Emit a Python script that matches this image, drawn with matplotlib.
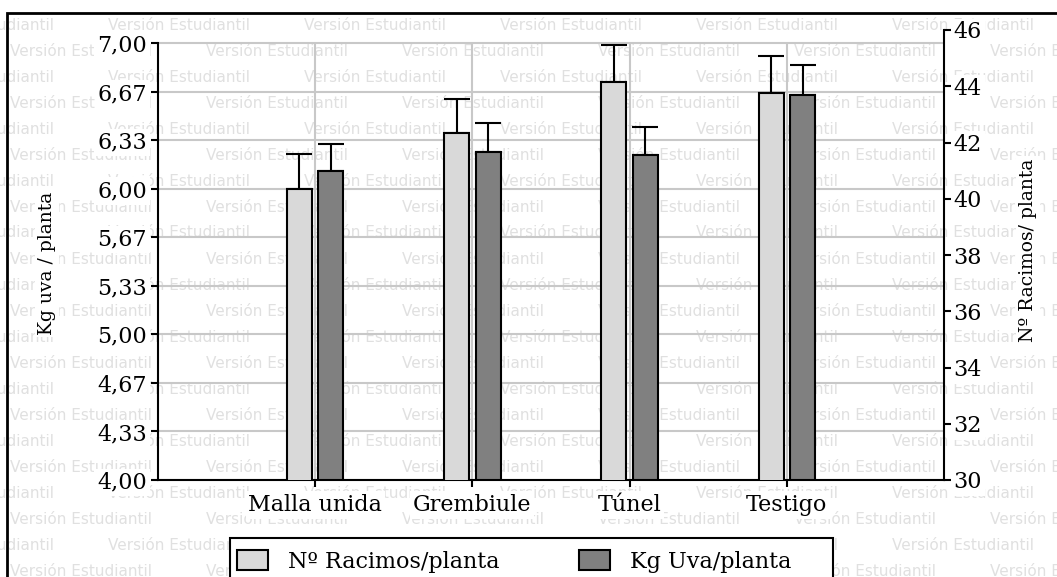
import numpy as np
import matplotlib
matplotlib.use("Agg")
import matplotlib.pyplot as plt
from matplotlib.patches import Patch, Rectangle

plt.rcParams['font.family'] = 'DejaVu Serif'

## --- datos
tratamientos = ["Malla unida", "Grembiule", "Túnel", "Testigo"]
racimos = [40.35, 42.33, 44.14, 43.75]       # Nº racimos / planta (eje derecho)
racimos_err = [1.24, 1.22, 1.33, 1.34]
kg_uva = [6.12, 6.25, 6.23, 6.64]            # Kg uva / planta (eje izquierdo)
kg_err = [0.19, 0.20, 0.19, 0.21]
ticks_kg = [4.00, 4.33, 4.67, 5.00, 5.33, 5.67, 6.00, 6.33, 6.67, 7.00]
ticks_racimos = [30, 32, 34, 36, 38, 40, 42, 44, 46]

W, H = 1057, 577
def fx(px):
    return px / W
def fy(py):
    return 1 - py / H

fig = plt.figure(figsize=(W / 100, H / 100), dpi=100)

# marca de agua de fondo
for k, y in enumerate(range(25, H + 13, 26)):
    x0 = 108 if k % 2 == 0 else 10
    for x in range(x0 - 196, W, 196):
        fig.text(fx(x), fy(y), "Versión Estudiantil", fontsize=11,
                 color="#e0e0e0", family="DejaVu Sans", ha="left",
                 va="center", zorder=-5)

ax = fig.add_axes([fx(158), fy(480), fx(944) - fx(158), (480 - 30) / H])
ax.patch.set_visible(False)
ax2 = ax.twinx()
ax2.patch.set_visible(False)

x = np.arange(1, len(tratamientos) + 1)
gris_rejilla = "#c8c8c8"

ax.set_xlim(0, 5)
ax.set_ylim(4, 4 + 3 * 450 / 437)
ax2.set_ylim(30, 46)

# rejilla
ax.yaxis.grid(True, color=gris_rejilla, lw=1.5)
ax.set_axisbelow(True)
ax.vlines(x, 4, 7, color=gris_rejilla, lw=1.5, zorder=0.5)

ekw = dict(ecolor="black", elinewidth=1.5, capthick=1.5, zorder=1.9)
ax.bar(x + 0.1, kg_uva, 0.16, color="#808080", edgecolor="black", lw=1.5,
       zorder=2, yerr=[np.zeros(len(kg_err)), kg_err], capsize=9.5,
       error_kw=ekw)
ax2.bar(x - 0.1, racimos, 0.16, color="#d9d9d9", edgecolor="black", lw=1.5,
        zorder=2, yerr=[np.zeros(len(racimos_err)), racimos_err], capsize=9.5,
        error_kw=ekw)

# ejes
ax.spines["top"].set_visible(False)
ax.spines["right"].set_visible(False)
ax.spines["left"].set_bounds(4, 7)
ax.spines["left"].set_linewidth(1.5)
ax.spines["bottom"].set_linewidth(1.5)
for s in ["left", "top", "bottom"]:
    ax2.spines[s].set_visible(False)
ax2.spines["right"].set_linewidth(1.5)

ax.set_yticks(np.linspace(4, 7, 10))
ax.set_yticklabels([("%.2f" % v).replace(".", ",") for v in ticks_kg])
ax.set_xticks(x)
ax.set_xticklabels(tratamientos)
ax2.set_yticks(ticks_racimos)
ax.tick_params(axis="y", direction="out", length=5, width=1.5, labelsize=16, pad=3)
ax.tick_params(axis="x", direction="out", length=5, width=1.5, labelsize=16, pad=5)
ax2.tick_params(axis="y", direction="out", length=5, width=1.5, labelsize=16, pad=2)
for lab in ax.get_yticklabels() + ax.get_xticklabels() + ax2.get_yticklabels():
    lab.set_bbox(dict(facecolor="white", edgecolor="none", pad=2))

# titulos de ejes
fig.text(fx(47), fy(263), "Kg uva / planta", rotation=90, fontsize=13.5,
         ha="center", va="center",
         bbox=dict(facecolor="white", edgecolor="none", pad=2))
fig.text(fx(1028), fy(250), "Nº Racimos/ planta", rotation=90, fontsize=13.5,
         ha="center", va="center",
         bbox=dict(facecolor="white", edgecolor="none", pad=2))

# leyenda: marco propio y entradas dentro
fig.add_artist(Rectangle((fx(230), -0.1), fx(833) - fx(230), fy(538) + 0.1,
                         facecolor="white", edgecolor="black", lw=1.5,
                         transform=fig.transFigure, zorder=4))
handles = [Patch(facecolor="#d9d9d9", edgecolor="black", lw=1.5, label="Nº Racimos/planta"),
           Patch(facecolor="#808080", edgecolor="black", lw=1.5, label="Kg Uva/planta")]
leg = fig.legend(handles=handles, loc="upper left", bbox_to_anchor=(fx(230), fy(543)),
                 ncol=2, fontsize=16, frameon=False, borderpad=0.3,
                 handlelength=1.4, handleheight=1.05, handletextpad=0.9,
                 columnspacing=3.6, borderaxespad=0)
leg.set_zorder(5)

# marco
fig.add_artist(Rectangle((fx(7), -0.1), 1.2, fy(13) + 0.1, fill=False,
                         edgecolor="black", lw=2, transform=fig.transFigure, zorder=10))

fig.savefig("out.png", dpi=100)
